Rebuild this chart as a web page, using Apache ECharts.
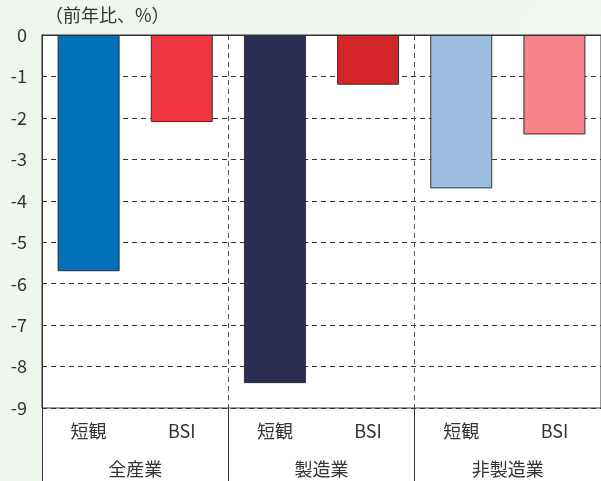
<!DOCTYPE html>
<html>
<head>
<meta charset="utf-8">
<script src="https://cdn.jsdelivr.net/npm/echarts@6/dist/echarts.min.js"></script>
<style>
  html, body { margin: 0; padding: 0; }
  #chart { width: 601px; height: 481px; }
</style>
</head>
<body>
<div id="chart"></div>
<script>
// 業種別（グループ）と系列
var groups = ['全産業', '製造業', '非製造業']
var subLabels = ['短観', 'BSI', '短観', 'BSI', '短観', 'BSI']
var values = [-5.7, -2.1, -8.4, -1.2, -3.7, -2.4]
var barColors = ['#0071b9', '#ef3640', '#2b2d53', '#d3242a', '#9dbde0', '#f4838a']
var yTicks = [0, -1, -2, -3, -4, -5, -6, -7, -8, -9]

var font = '"Noto Sans CJK JP", "Noto Sans", sans-serif'
var chart = echarts.init(document.getElementById('chart'))

chart.setOption({
    backgroundColor: new echarts.graphic.LinearGradient(0, 0, 1, 1, [
        { offset: 0, color: '#edf5ed' },
        { offset: 1, color: '#f1f8f1' }
    ]),
    animation: false,
    textStyle: { fontFamily: font },
    graphic: [
        // 軸ラベル部分の白地
        { type: 'rect', left: 42, top: 35, z: -1, shape: { width: 562, height: 450 }, style: { fill: '#fff' } },
        { type: 'text', left: 45, top: 6, style: { text: '（前年比、%）', fontSize: 18, fontFamily: font, fill: '#333' } }
    ],
    grid: {
        left: 42, top: 35, right: -3, bottom: 73,
        show: true, backgroundColor: '#fff', borderColor: '#333', borderWidth: 1
    },
    xAxis: [
        {
            type: 'category',
            data: subLabels,
            position: 'bottom',
            axisLine: { show: true, lineStyle: { color: '#333', width: 1 } },
            axisTick: { show: false },
            axisLabel: { margin: 14, fontSize: 18, color: '#333' },
            splitLine: { show: false }
        },
        {
            type: 'category',
            data: groups,
            position: 'bottom',
            axisLine: { show: false },
            axisTick: { show: true, length: 76, lineStyle: { color: '#333', width: 1 } },
            axisLabel: { margin: 52, fontSize: 18, color: '#333' },
            splitLine: { show: true, lineStyle: { color: '#555', type: [5, 4], width: 1 } }
        }
    ],
    yAxis: {
        type: 'value',
        min: yTicks[yTicks.length - 1],
        max: yTicks[0],
        interval: 1,
        axisLine: { show: true, lineStyle: { color: '#333', width: 1 } },
        axisTick: { show: false },
        axisLabel: { margin: 15, fontSize: 18, color: '#333' },
        splitLine: { show: true, lineStyle: { color: '#333', type: [5, 4], width: 1 } }
    },
    series: [{
        type: 'bar',
        xAxisIndex: 0,
        barWidth: 62,
        data: values.map(function (v, i) {
            return { value: v, itemStyle: { color: barColors[i], borderColor: '#333', borderWidth: 1 } }
        }),
        z: 3
    }]
})
</script>
</body>
</html>
